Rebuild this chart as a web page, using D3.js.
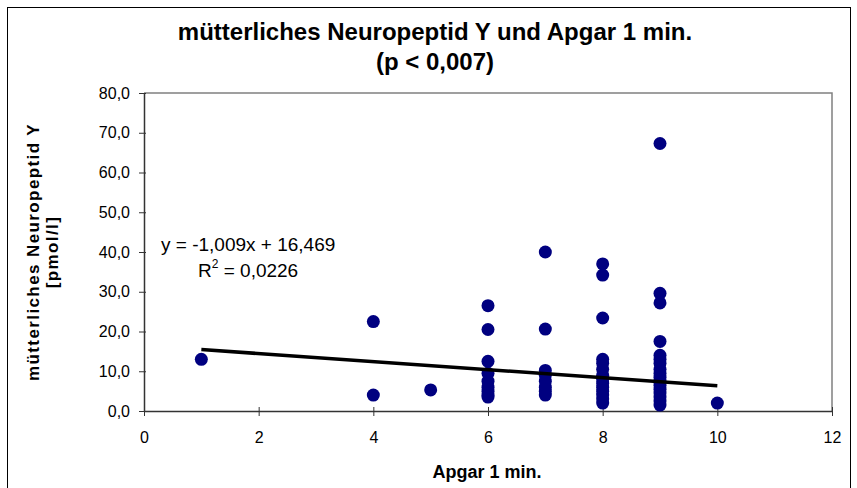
<!DOCTYPE html>
<html><head><meta charset="utf-8">
<script src="https://cdn.jsdelivr.net/npm/d3@7"></script>
<style>body{margin:0;background:#fff}svg{display:block;font-family:"Liberation Sans",Arial,sans-serif}</style>
</head><body><svg id="c" width="857" height="488"></svg>
<script>
const titleLines = ["mütterliches Neuropeptid Y und Apgar 1 min.", "(p < 0,007)"];
const xLabel = "Apgar 1 min.";
const yLabelLines = ["mütterliches Neuropeptid Y", "[pmol/l]"];
const xTicks = [0, 2, 4, 6, 8, 10, 12];
const yTicks = [0, 10, 20, 30, 40, 50, 60, 70, 80];
const apgar = [1, 4, 4, 5,
  6, 6, 6, 6, 6, 6, 6, 6, 6,
  7, 7, 7, 7, 7, 7, 7, 7,
  8, 8, 8, 8, 8, 8, 8, 8, 8, 8, 8, 8, 8, 8,
  9, 9, 9, 9, 9, 9, 9, 9, 9, 9, 9, 9, 9, 9, 9, 9, 9,
  10];
const npy = [13.0, 22.5, 4.0, 5.3,
  26.5, 20.5, 12.5, 9.5, 7.5, 6.0, 5.0, 4.0, 3.5,
  40.0, 20.6, 10.2, 9.0, 7.5, 6.0, 5.0, 4.0,
  37.0, 34.2, 23.4, 13.0, 12.0, 10.5, 9.0, 8.0, 7.0, 6.0, 5.0, 4.0, 3.0, 2.0,
  67.3, 29.6, 27.2, 17.5, 14.0, 13.0, 12.0, 10.5, 9.5, 8.5, 7.5, 6.5, 5.5, 4.5, 3.5, 2.5, 1.5,
  2.0];
const slope = -1.009, intercept = 16.469;
const trendX = [1, 10];
const eqText = "y = -1,009x + 16,469";
const r2Value = "0,0226";

const svg = d3.select("#c");
const fmtY = v => d3.format(".1f")(v).replace(".", ",");

// outer frame
svg.append("rect").attr("x", 7.5).attr("y", 7.5).attr("width", 843).attr("height", 490)
  .attr("fill", "none").attr("stroke", "#000").attr("stroke-width", 1);

const x = d3.scaleLinear().domain([0, 12]).range([144, 832]);
const y = d3.scaleLinear().domain([0, 80]).range([411, 93]);

// plot area border (top/right gray)
svg.append("path").attr("d", `M${x(0)},${y(80)}H${x(12)}V${y(0)}`)
  .attr("fill", "none").attr("stroke", "#808080").attr("stroke-width", 1.5);

// axes
svg.append("g").attr("transform", `translate(0,${y(0)})`)
  .call(d3.axisBottom(x).tickValues(xTicks).tickSizeInner(5).tickSizeOuter(0).tickPadding(15.5).tickFormat(d3.format("d")));
svg.append("g").attr("transform", `translate(0,${y(0)})`)
  .call(d3.axisTop(x).tickValues(xTicks).tickSizeInner(4).tickSizeOuter(0).tickFormat(""))
  .call(g => g.select(".domain").remove());
svg.append("g").attr("transform", `translate(${x(0)},0)`)
  .call(d3.axisLeft(y).tickValues(yTicks).tickSizeInner(5).tickSizeOuter(0).tickPadding(9).tickFormat(fmtY));
svg.append("g").attr("transform", `translate(${x(0)},0)`)
  .call(d3.axisRight(y).tickValues(yTicks).tickSizeInner(2).tickSizeOuter(0).tickFormat(""))
  .call(g => g.select(".domain").remove());
svg.selectAll(".domain").attr("stroke", "#333").attr("stroke-width", 1.5);
svg.selectAll(".tick line").attr("stroke", "#333").attr("stroke-width", 1);
svg.selectAll(".tick text").attr("font-size", 16).attr("fill", "#000")
  .attr("font-family", "'Liberation Sans',Arial,sans-serif");

// points
svg.append("g").selectAll("circle").data(apgar.map((a, i) => [a, npy[i]])).join("circle")
  .attr("cx", d => x(d[0])).attr("cy", d => y(d[1])).attr("r", 6.5).attr("fill", "#000080");

// trendline
svg.append("line")
  .attr("x1", x(trendX[0])).attr("y1", y(slope * trendX[0] + intercept))
  .attr("x2", x(trendX[1])).attr("y2", y(slope * trendX[1] + intercept))
  .attr("stroke", "#000").attr("stroke-width", 3.5);

// equation
svg.append("text").attr("x", 161).attr("y", 251).attr("font-size", 19).text(eqText);
const r2 = svg.append("text").attr("x", 198).attr("y", 277).attr("font-size", 19);
r2.append("tspan").text("R");
r2.append("tspan").attr("dy", -9).attr("font-size", 12).text("2");
r2.append("tspan").attr("dy", 9).text(" = " + r2Value);

// title
svg.append("text").attr("x", 435).attr("y", 40).attr("text-anchor", "middle")
  .attr("font-size", 24).attr("font-weight", "bold").text(titleLines[0]);
svg.append("text").attr("x", 435).attr("y", 70).attr("text-anchor", "middle")
  .attr("font-size", 24).attr("font-weight", "bold").text(titleLines[1]);

// x label
svg.append("text").attr("x", 487).attr("y", 478).attr("text-anchor", "middle")
  .attr("font-size", 18).attr("font-weight", "bold").text(xLabel);

// y label
const yl = svg.append("text").attr("transform", "translate(39,252) rotate(-90)")
  .attr("text-anchor", "middle").attr("font-size", 17).attr("font-weight", "bold")
  .attr("letter-spacing", 1.4);
yl.append("tspan").attr("x", 0).attr("y", 0).text(yLabelLines[0]);
yl.append("tspan").attr("x", 0).attr("y", 19).text(yLabelLines[1]);
</script></body></html>
